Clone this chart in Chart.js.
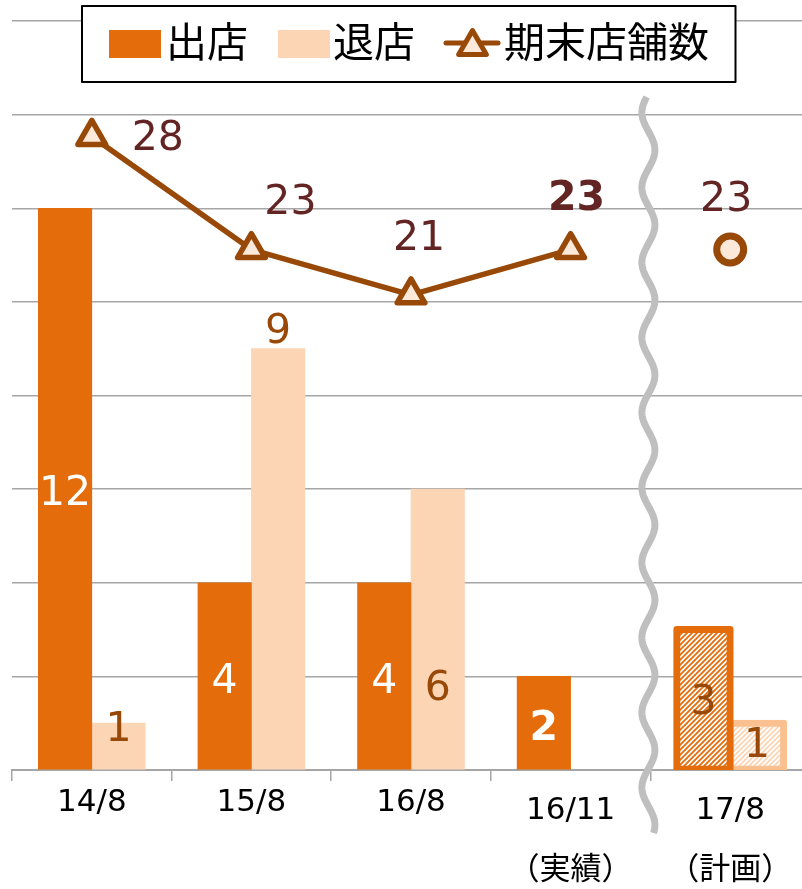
<!DOCTYPE html>
<html><head><meta charset="utf-8">
<script src="https://cdn.jsdelivr.net/npm/chart.js@4.4.0/dist/chart.umd.min.js"></script>
<style>
html,body{margin:0;padding:0;overflow:hidden;background:#fff;width:802px;height:889px;}
#wrap{position:absolute;left:0;top:0;width:812px;height:901px;}
</style></head><body>
<div id="wrap"><canvas id="c" width="812" height="901"></canvas></div>
<script>
// ---- data ----
const categories = ['14/8', '15/8', '16/8', '16/11', '17/8'];
const subLabels = ['', '', '', '（実績）', '（計画）'];
const openings = [12, 4, 4, 2, 3];
const closings = [1, 9, 6, null, 1];
const storeCount = [28, 23, 21, 23, null];
const storeCountPlan = [null, null, null, null, 23];
const seriesNames = ['出店', '退店', '期末店舗数'];
const planIndex = 4;

// ---- styles ----
const ORANGE = '#E46C0A', PEACH = '#FCD5B5', BROWN = '#984807', LABEL_RED = '#632523';
const GRID = '#A6A6A6';
const NUM_FONT = '"DejaVu Sans", "Noto Sans CJK JP", sans-serif';
const CJK_FONT = '"Noto Sans CJK JP", "DejaVu Sans", sans-serif';
const TEXT_DY = 3;

const canvas = document.getElementById('c');
const mainCtx = canvas.getContext('2d');
function hatch(lineColor, bg) {
  const s = 5;
  const c = document.createElement('canvas'); c.width = s; c.height = s;
  const g = c.getContext('2d');
  g.fillStyle = bg; g.fillRect(0, 0, s, s);
  g.strokeStyle = lineColor; g.lineWidth = 1.8;
  g.beginPath();
  g.moveTo(0, s); g.lineTo(s, 0);
  g.moveTo(-1, 1); g.lineTo(1, -1);
  g.moveTo(s - 1, s + 1); g.lineTo(s + 1, s - 1);
  g.stroke();
  return mainCtx.createPattern(c, 'repeat');
}
const hatchOrange = hatch(ORANGE, '#FFFFFF');
const hatchPeach = hatch(PEACH, '#FFFFFF');

// label placement (styling, not data)
const barLabelStyle = [
  { anchor: ['c', 'c', 'c', 'c', 'c'], dy: [3, 3, 3, 4, 1], color: ['#fff', '#fff', '#fff', '#fff', BROWN], bold: [false, false, false, true, false] },
  { anchor: ['c', 'top', 'c', null, 'c'], dy: [-19, -19, 57, 0, -3], color: [BROWN, BROWN, BROWN, BROWN, BROWN], bold: [false, false, false, false, false] }
];
const lineLabelOffsets = [[66, 0], [39, -49], [8, -58], [6, -53]];
const lineLabelBold = [false, false, false, true];
const planLabelOffset = [-4, -52];

const labelsPlugin = {
  id: 'labels',
  beforeDatasetsDraw(chart) { chart.ctx.lineJoin = 'round'; },
  afterDatasetsDraw(chart) {
    const ctx = chart.ctx;
    const area = chart.chartArea;
    // wavy break line
    const xs = chart.scales.x;
    const cx = (xs.getPixelForValue(3) + xs.getPixelForValue(4)) / 2 - 2;
    ctx.save();
    ctx.strokeStyle = '#BFBFBF'; ctx.lineWidth = 7; ctx.lineCap = 'butt'; ctx.lineJoin = 'round';
    ctx.beginPath();
    const y0 = area.top + 76, y1 = area.bottom + 63;
    for (let y = y0; y <= y1; y += 1) {
      const xx = cx + 6.5 * Math.cos(2 * Math.PI * (y - (area.top + 129)) / 75);
      if (y === y0) ctx.moveTo(xx, y); else ctx.lineTo(xx, y);
    }
    ctx.stroke();
    ctx.restore();

    ctx.save();
    ctx.textAlign = 'center'; ctx.textBaseline = 'middle';
    // bar labels
    [0, 1].forEach(di => {
      const meta = chart.getDatasetMeta(di);
      const st = barLabelStyle[di];
      meta.data.forEach((bar, i) => {
        const v = chart.data.datasets[di].data[i];
        if (v == null || !st.anchor[i]) return;
        let y = st.anchor[i] === 'top' ? bar.y : (bar.y + bar.base) / 2;
        y += st.dy[i] + TEXT_DY;
        ctx.fillStyle = st.color[i];
        ctx.font = (st.bold[i] ? 'bold ' : '') + '41px ' + NUM_FONT;
        ctx.fillText(String(v), bar.x, y);
      });
    });
    // line labels
    const lm = chart.getDatasetMeta(2);
    lm.data.forEach((p, i) => {
      const v = chart.data.datasets[2].data[i];
      if (v == null) return;
      ctx.fillStyle = LABEL_RED;
      ctx.font = (lineLabelBold[i] ? 'bold ' : '') + '41px ' + NUM_FONT;
      ctx.fillText(String(v), p.x + lineLabelOffsets[i][0], p.y + lineLabelOffsets[i][1] + TEXT_DY);
    });
    const pm = chart.getDatasetMeta(3);
    pm.data.forEach((p, i) => {
      const v = chart.data.datasets[3].data[i];
      if (v == null) return;
      ctx.fillStyle = LABEL_RED;
      ctx.font = '41px ' + NUM_FONT;
      ctx.fillText(String(v), p.x + planLabelOffset[0], p.y + planLabelOffset[1] + TEXT_DY);
    });
    ctx.restore();
  },
  afterDraw(chart) {
    const ctx = chart.ctx;
    const ds = chart.data.datasets;
    ctx.save();
    ctx.fillStyle = '#fff';
    ctx.fillRect(82, 6, 653.5, 76);
    ctx.strokeStyle = '#000'; ctx.lineWidth = 2;
    ctx.strokeRect(82, 6, 653.5, 76);
    ctx.fillStyle = ORANGE; ctx.fillRect(109, 30, 52, 28);
    ctx.fillStyle = PEACH; ctx.fillRect(278, 30, 52, 28);
    ctx.fillStyle = '#000';
    ctx.font = '41px ' + CJK_FONT;
    ctx.textBaseline = 'middle'; ctx.textAlign = 'left';
    ctx.fillText(ds[0].label, 166, 41);
    ctx.fillText(ds[1].label, 333, 41);
    ctx.fillText(ds[2].label, 504, 41);
    // line + triangle
    ctx.strokeStyle = BROWN; ctx.lineWidth = 5; ctx.lineCap = 'round'; ctx.lineJoin = 'round';
    ctx.beginPath(); ctx.moveTo(446, 43); ctx.lineTo(498, 43); ctx.stroke();
    const tx = 472.5, ty = 46.5, r = 16;
    ctx.beginPath();
    for (let k = 0; k < 3; k++) {
      const a = k * 2 * Math.PI / 3;
      const px = tx + Math.sin(a) * r, py = ty - Math.cos(a) * r;
      if (k === 0) ctx.moveTo(px, py); else ctx.lineTo(px, py);
    }
    ctx.closePath();
    ctx.fillStyle = '#FDE9D9'; ctx.fill(); ctx.stroke();
    ctx.restore();
  }
};

const isPlan = c => c.dataIndex === planIndex;

new Chart(canvas, {
  data: {
    labels: categories.map((c, i) => subLabels[i] ? [c, subLabels[i]] : c),
    datasets: [
      {
        type: 'bar', label: seriesNames[0], data: openings, yAxisID: 'y', order: 1,
        backgroundColor: c => isPlan(c) ? hatchOrange : ORANGE,
        borderColor: ORANGE,
        borderWidth: c => isPlan(c) ? 7 : 0,
        borderSkipped: c => isPlan(c) ? false : 'start',
        borderRadius: c => isPlan(c) ? 3 : 0,
        inflateAmount: c => isPlan(c) ? 3.5 : 0.33,
        categoryPercentage: 0.67, barPercentage: 1.0
      },
      {
        type: 'bar', label: seriesNames[1], data: closings, yAxisID: 'y', order: 1,
        backgroundColor: c => isPlan(c) ? hatchPeach : PEACH,
        borderColor: '#FAC090',
        borderWidth: c => isPlan(c) ? 7 : 0,
        borderSkipped: c => isPlan(c) ? false : 'start',
        borderRadius: c => isPlan(c) ? 3 : 0,
        inflateAmount: c => isPlan(c) ? 3.5 : 0.33,
        categoryPercentage: 0.67, barPercentage: 1.0
      },
      {
        type: 'line', label: seriesNames[2], data: storeCount, yAxisID: 'y1', order: 0,
        borderColor: BROWN, borderWidth: 5.5, borderJoinStyle: 'round', tension: 0,
        pointStyle: 'triangle', pointRadius: 16, pointHoverRadius: 16,
        pointBorderWidth: 5.5, pointBackgroundColor: '#FDE9D9', pointBorderColor: BROWN,
        clip: false
      },
      {
        type: 'line', label: seriesNames[2] + '（計画）', data: storeCountPlan, yAxisID: 'y1', order: 0,
        showLine: false, borderColor: BROWN,
        pointStyle: 'circle', pointRadius: 13.5, pointHoverRadius: 13.5,
        pointBorderWidth: 7, pointBackgroundColor: '#FDE9D9', pointBorderColor: BROWN,
        clip: false
      }
    ]
  },
  options: {
    responsive: false, animation: false,
    layout: { autoPadding: false, padding: { left: 12, right: 2, top: 21, bottom: 0 } },
    plugins: { legend: { display: false }, tooltip: { enabled: false } },
    scales: {
      x: {
        grid: { display: true, drawOnChartArea: false, drawTicks: true, tickLength: 11, color: GRID, lineWidth: 1.5, offset: true },
        border: { display: true, color: GRID, width: 2 },
        ticks: {
          color: '#000', padding: 0, maxRotation: 0, autoSkip: false,
          font: c => ({ family: NUM_FONT, size: 31, lineHeight: subLabels[c.index] ? '60px' : '44px' })
        }
      },
      y: {
        min: 0, max: 16,
        ticks: { display: false, stepSize: 2 },
        grid: { color: GRID, lineWidth: 1.5, drawTicks: false },
        border: { display: false }
      },
      y1: { display: false, min: 0, max: 33.1, position: 'right' }
    }
  },
  plugins: [labelsPlugin]
});
</script>
</body></html>
